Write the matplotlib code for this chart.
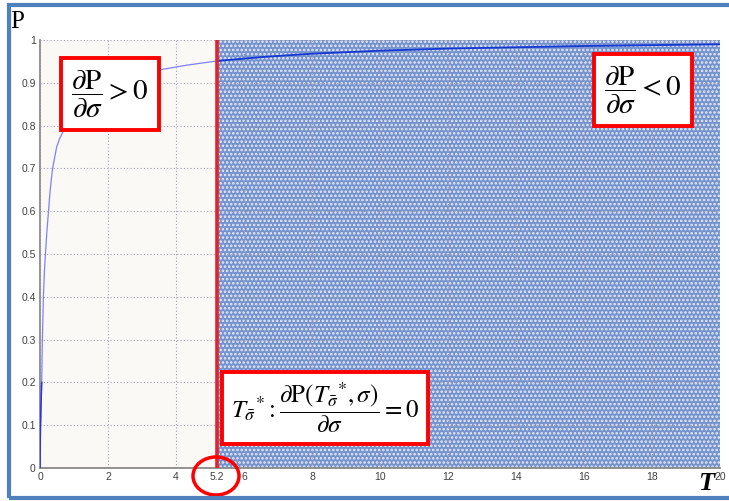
import numpy as np
import matplotlib
matplotlib.use('Agg')
import matplotlib.pyplot as plt
from matplotlib.patches import Ellipse, Rectangle

plt.rcParams['mathtext.fontset'] = 'stix'
plt.rcParams['font.family'] = 'Liberation Sans'

# curve
T = [0, 0.01, 0.03, 0.05, 0.07, 0.1, 0.13, 0.16, 0.2, 0.25, 0.3, 0.37, 0.43, 0.49, 0.58, 0.69, 0.78,
     1.0, 1.3, 1.7, 2.2, 2.8, 3.5, 4.3, 5.2, 6.5, 8, 10, 12, 14, 16, 18, 20]
P = [0, 0.08, 0.15, 0.2, 0.3, 0.4, 0.46, 0.5, 0.55, 0.6, 0.65, 0.7, 0.725, 0.75, 0.77, 0.788, 0.8,
     0.825, 0.85, 0.875, 0.897, 0.915, 0.93, 0.941, 0.951, 0.96, 0.968, 0.975, 0.98, 0.983, 0.986, 0.988, 0.99]

t_star = 5.2
x_ticks = [0, 2, 4, 5.2, 6, 8, 10, 12, 14, 16, 18, 20]
x_labels = ['0', '2', '4', '5.2', '6', '8', '10', '12', '14', '16', '18', '20']
y_ticks = [0, 0.1, 0.2, 0.3, 0.4, 0.5, 0.6, 0.7, 0.8, 0.9, 1]
y_labels = ['0', '0.1', '0.2', '0.3', '0.4', '0.5', '0.6', '0.7', '0.8', '0.9', '1']

W, H = 729, 501
fig = plt.figure(figsize=(W / 100, H / 100), dpi=100)
ax = fig.add_axes([40 / W, (H - 468) / H, 680 / W, 428 / H])
ax.set_facecolor('#faf9f6')

# shaded region to the right of T*
plt.rcParams['hatch.linewidth'] = 1.2
ax.axvspan(t_star, 20, facecolor='#7693cd', edgecolor='#e6ecf8', hatch='....', linewidth=0, zorder=1)

ax.set_xlim(0, 20)
ax.set_ylim(0, 1)
ax.set_xticks(x_ticks)
ax.set_xticklabels(x_labels)
ax.set_yticks(y_ticks)
ax.set_yticklabels(y_labels)
ax.tick_params(length=0, labelsize=7.5, labelcolor='#404040', pad=3)
ax.grid(True, color='#a0a0b0', linestyle=(0, (1, 2)), linewidth=0.8, zorder=2)
ax.set_axisbelow(False)
for s in ['top', 'right']:
    ax.spines[s].set_visible(False)
for s in ['left', 'bottom']:
    ax.spines[s].set_color('#808080')
    ax.spines[s].set_linewidth(1.2)

Ta = np.array(T)
Pa = np.array(P)
ax.plot(Ta, Pa, color='#8080ff', linewidth=0.9, zorder=3)
right = Ta >= t_star
ax.plot(Ta[right], Pa[right], color='#1538d0', linewidth=1.3, zorder=3)
left = Ta <= 0.05
ax.plot(Ta[left], Pa[left], color='#3030e0', linewidth=1.1, zorder=3)

ax.axvline(t_star, color='#e8202a', linewidth=2.6, zorder=4)

box = dict(boxstyle='square,pad=0.35', facecolor='white', edgecolor='#ff0000', linewidth=2.8)
fig.text(110 / W, 1 - 94 / H, r'$\dfrac{\partial \mathrm{P}}{\partial \sigma} > 0$',
         fontsize=21, ha='center', va='center', bbox=box, zorder=10)
fig.text(643 / W, 1 - 90 / H, r'$\dfrac{\partial \mathrm{P}}{\partial \sigma} < 0$',
         fontsize=21, ha='center', va='center', bbox=box, zorder=10)
fig.text(325 / W, 1 - 408 / H,
         r'$T_{\bar{\sigma}}{}^{*} : \dfrac{\partial \mathrm{P}\left(T_{\bar{\sigma}}{}^{*}, \sigma\right)}{\partial \sigma} = 0$',
         fontsize=18, ha='center', va='center', bbox=box, zorder=10)

# axis letters
fig.text(17 / W, 1 - 22 / H, 'P', fontsize=18, family='Liberation Serif', ha='center', va='center')
fig.text(706 / W, 1 - 484 / H, 'T', fontsize=19, family='Liberation Serif', style='italic',
         weight='bold', ha='center', va='center')

# red ring around the 5.2 label
fig.add_artist(Ellipse((216 / W, 1 - 476 / H), 46 / W, 38 / H, fill=False,
                       edgecolor='#ff0000', linewidth=2.5))

# outer blue frame
fig.add_artist(Rectangle((9 / W, 3 / H), 740 / W, (H - 8) / H, fill=False,
                         edgecolor='#4f81bd', linewidth=3))

fig.savefig('out.png', dpi=100)
